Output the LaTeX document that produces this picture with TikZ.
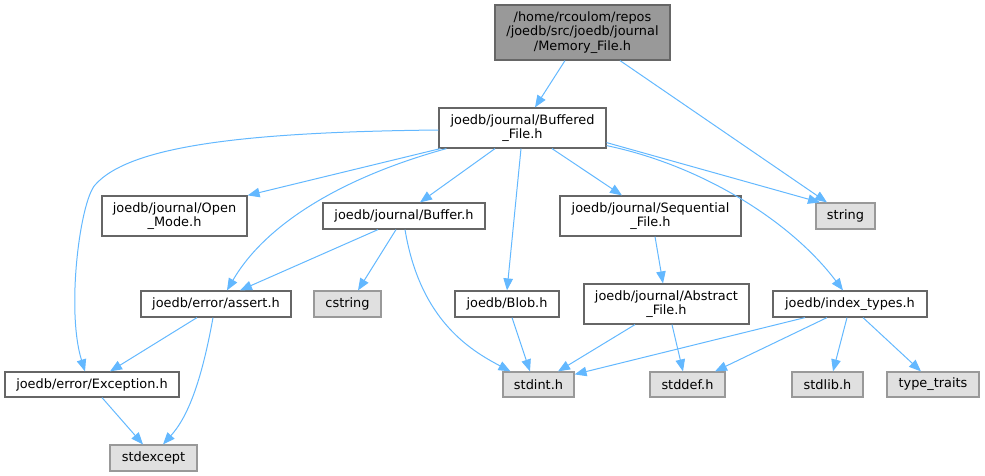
\documentclass[tikz,border=0pt]{standalone}
\usepackage{fontspec}
\setmainfont{DejaVu Sans}
\usetikzlibrary{arrows.meta}
\definecolor{edgec}{HTML}{63B8FF}
\definecolor{bordn}{HTML}{666666}
\definecolor{borde}{HTML}{999999}
\definecolor{fillr}{HTML}{999999}
\definecolor{fille}{HTML}{E0E0E0}
\tikzset{
  nbox/.style={draw=bordn, fill=white, line width=1.2pt, inner sep=0pt, align=center,
    font=\fontsize{12.9}{14.5}\selectfont},
  rootbox/.style={nbox, fill=fillr},
  extbox/.style={nbox, draw=borde, fill=fille},
  dep/.style={draw=edgec, line width=1pt, -{Triangle[length=12pt,width=9.5pt]}},
}
\begin{document}
\begin{tikzpicture}[x=1pt,y=-1pt]
\useasboundingbox (0,0) rectangle (985,476);
% nodes
\node[rootbox, minimum width=175pt, minimum height=55pt] (mem) at (582.5,32.5) {/home/rcoulom/repos\\/joedb/src/joedb/journal\\/Memory\_File.h};
\node[nbox, minimum width=167pt, minimum height=40pt] (buf) at (522.5,128) {joedb/journal/Buffered\\\_File.h};
\node[nbox, minimum width=145pt, minimum height=40pt] (open) at (174.5,216) {joedb/journal/Open\\\_Mode.h};
\node[nbox, minimum width=162pt, minimum height=26pt] (buffer) at (404,216) {joedb/journal/Buffer.h};
\node[nbox, minimum width=181pt, minimum height=40pt] (seq) at (650.5,216) {joedb/journal/Sequential\\\_File.h};
\node[extbox, minimum width=59pt, minimum height=26pt] (string) at (845.5,216) {string};
\node[nbox, minimum width=150pt, minimum height=26pt] (assert) at (216,304) {joedb/error/assert.h};
\node[extbox, minimum width=67pt, minimum height=26pt] (cstring) at (347.5,304) {cstring};
\node[nbox, minimum width=104pt, minimum height=26pt] (blob) at (507,304) {joedb/Blob.h};
\node[nbox, minimum width=165pt, minimum height=40pt] (abs) at (666.5,304) {joedb/journal/Abstract\\\_File.h};
\node[nbox, minimum width=154pt, minimum height=26pt] (idx) at (850,304) {joedb/index\_types.h};
\node[nbox, minimum width=174pt, minimum height=25pt] (exc) at (92,384.5) {joedb/error/Exception.h};
\node[extbox, minimum width=71pt, minimum height=25pt] (stdint) at (538.5,384.5) {stdint.h};
\node[extbox, minimum width=75pt, minimum height=25pt] (stddef) at (687.5,384.5) {stddef.h};
\node[extbox, minimum width=71pt, minimum height=25pt] (stdlib) at (827.5,384.5) {stdlib.h};
\node[extbox, minimum width=92pt, minimum height=25pt] (tt) at (933,384.5) {type\_traits};
\node[extbox, minimum width=87pt, minimum height=26pt] (stdexcept) at (153.5,458) {stdexcept};
% edges
\draw[dep] ([xshift=-17.5pt]mem.south) -- ([xshift=12.5pt]buf.north);
\draw[dep] ([xshift=37.5pt]mem.south) -- ([xshift=-18.5pt]string.north);
\draw[dep] ([yshift=-2pt]buf.west) .. controls (250,132) and (130,145) .. (95,185)
  .. controls (80,202) and (66,310) .. ([xshift=-7pt]exc.north);
\draw[dep] ([xshift=2pt]buf.south west) -- (open.north east);
\draw[dep] ([xshift=8pt]buf.south west) .. controls (340,178) and (265,225) .. ([xshift=11pt]assert.north);
\draw[dep] ([xshift=-27.5pt]buf.south) -- ([xshift=16pt]buffer.north);
\draw[dep] ([xshift=-1.5pt]buf.south) -- (blob.north);
\draw[dep] ([xshift=29.5pt]buf.south) -- ([xshift=-28.5pt]seq.north);
\draw[dep] ([yshift=6pt]buf.south east) -- ([xshift=-25.5pt]string.north);
\draw[dep] ([yshift=3pt]buf.south east) .. controls (700,165) and (790,220) .. ([xshift=-7pt]idx.north);
\draw[dep] ([xshift=-26pt]buffer.south) -- ([xshift=24pt]assert.north);
\draw[dep] ([xshift=-8pt]buffer.south) -- ([xshift=10.5pt]cstring.north);
\draw[dep] ([xshift=1pt]buffer.south) .. controls (420,320) and (470,350) .. ([xshift=-28pt]stdint.north);
\draw[dep] ([xshift=-19pt]assert.south) -- ([xshift=18pt]exc.north);
\draw[dep] ([xshift=-3pt]assert.south) .. controls (200,390) and (185,420) .. ([xshift=9.5pt]stdexcept.north);
\draw[dep] ([xshift=10pt]exc.south) -- ([xshift=-10.5pt]stdexcept.north);
\draw[dep] ([xshift=5pt]blob.south) -- ([xshift=-8.5pt]stdint.north);
\draw[dep] ([xshift=4.5pt]seq.south) -- ([xshift=-3.5pt]abs.north);
\draw[dep] ([xshift=-31.5pt]abs.south) -- ([xshift=19.5pt]stdint.north);
\draw[dep] ([xshift=5.5pt]abs.south) -- ([xshift=-4.5pt]stddef.north);
\draw[dep] ([xshift=-45pt]idx.south) -- ([yshift=-3pt]stdint.north east);
\draw[dep] ([xshift=-23pt]idx.south) -- ([xshift=27.5pt]stddef.north);
\draw[dep] ([xshift=-3pt]idx.south) -- ([xshift=5.5pt]stdlib.north);
\draw[dep] ([xshift=13pt]idx.south) -- ([xshift=-12pt]tt.north);
\end{tikzpicture}
\end{document}
